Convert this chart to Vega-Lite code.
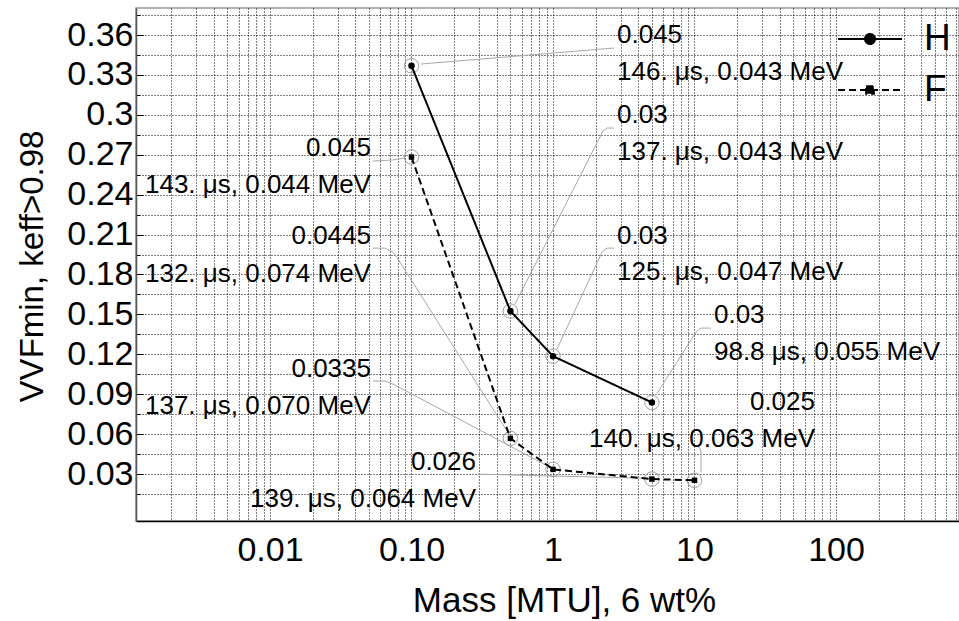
{
  "$schema": "https://vega.github.io/schema/vega-lite/v6.json",
  "width": 823,
  "height": 513,
  "autosize": {"type": "none"},
  "padding": {"left": 136, "top": 8, "right": 0, "bottom": 100},
  "background": "white",
  "config": {
    "view": {"stroke": "#999", "strokeWidth": 1.5},
    "font": "Liberation Sans",
    "axis": {"labelFont": "Liberation Sans", "titleFont": "Liberation Sans", "labelColor": "black", "titleColor": "black", "titleFontWeight": "normal"}
  },
  "datasets": {
    "series": [
      {"series": "H", "x": 0.1, "y": 0.3369},
      {"series": "H", "x": 0.5, "y": 0.1525},
      {"series": "H", "x": 1, "y": 0.1186},
      {"series": "H", "x": 5, "y": 0.0838},
      {"series": "F", "x": 0.1, "y": 0.2683},
      {"series": "F", "x": 0.5, "y": 0.0568},
      {"series": "F", "x": 1, "y": 0.0335},
      {"series": "F", "x": 5, "y": 0.0262},
      {"series": "F", "x": 10, "y": 0.0253}
    ],
    "leaders": [
      {"id": "A", "o": 1, "x": 0.1167, "y": 0.3382},
      {"id": "A", "o": 2, "x": 2.698, "y": 0.3502},
      {"id": "B", "o": 1, "x": 0.5387, "y": 0.1577},
      {"id": "B", "o": 2, "x": 2.256, "y": 0.2878},
      {"id": "B", "o": 3, "x": 2.407, "y": 0.2901},
      {"id": "B", "o": 4, "x": 2.698, "y": 0.2901},
      {"id": "C", "o": 1, "x": 1.067, "y": 0.1239},
      {"id": "C", "o": 2, "x": 2.22, "y": 0.1968},
      {"id": "C", "o": 3, "x": 2.407, "y": 0.1998},
      {"id": "C", "o": 4, "x": 2.698, "y": 0.1998},
      {"id": "D", "o": 1, "x": 5.345, "y": 0.0893},
      {"id": "D", "o": 2, "x": 10.25, "y": 0.1367},
      {"id": "D", "o": 3, "x": 11.12, "y": 0.1397},
      {"id": "D", "o": 4, "x": 13.08, "y": 0.1397},
      {"id": "E", "o": 1, "x": 0.05343, "y": 0.2653},
      {"id": "E", "o": 2, "x": 0.07281, "y": 0.266},
      {"id": "E", "o": 3, "x": 0.08851, "y": 0.2675},
      {"id": "F", "o": 1, "x": 0.05343, "y": 0.1998},
      {"id": "F", "o": 2, "x": 0.06498, "y": 0.1998},
      {"id": "F", "o": 3, "x": 0.07401, "y": 0.1968},
      {"id": "F", "o": 4, "x": 0.08028, "y": 0.1916},
      {"id": "F", "o": 5, "x": 0.473, "y": 0.0623},
      {"id": "G", "o": 1, "x": 0.05343, "y": 0.0999},
      {"id": "G", "o": 2, "x": 0.06498, "y": 0.0999},
      {"id": "G", "o": 3, "x": 0.07401, "y": 0.0976},
      {"id": "G", "o": 4, "x": 0.8925, "y": 0.0367},
      {"id": "H", "o": 1, "x": 0.2951, "y": 0.0299},
      {"id": "H", "o": 2, "x": 4.397, "y": 0.0269},
      {"id": "I", "o": 1, "x": 10.42, "y": 0.051},
      {"id": "I", "o": 2, "x": 10.94, "y": 0.0495},
      {"id": "I", "o": 3, "x": 11.12, "y": 0.0465},
      {"id": "I", "o": 4, "x": 11.12, "y": 0.0314}
    ],
    "labelsLeft": [
      {"x": 2.834, "y": 0.36, "t": "0.045"},
      {"x": 2.834, "y": 0.3322, "t": "146. μs, 0.043 MeV"},
      {"x": 2.834, "y": 0.3, "t": "0.03"},
      {"x": 2.834, "y": 0.272, "t": "137. μs, 0.043 MeV"},
      {"x": 2.834, "y": 0.2089, "t": "0.03"},
      {"x": 2.834, "y": 0.1818, "t": "125. μs, 0.047 MeV"},
      {"x": 13.73, "y": 0.1495, "t": "0.03"},
      {"x": 13.73, "y": 0.1217, "t": "98.8 μs, 0.055 MeV"}
    ],
    "labelsRight": [
      {"x": 0.05172, "y": 0.275, "t": "0.045"},
      {"x": 0.05172, "y": 0.2472, "t": "143. μs, 0.044 MeV"},
      {"x": 0.05172, "y": 0.2089, "t": "0.0445"},
      {"x": 0.05172, "y": 0.1803, "t": "132. μs, 0.074 MeV"},
      {"x": 0.05172, "y": 0.1089, "t": "0.0335"},
      {"x": 0.05172, "y": 0.0811, "t": "137. μs, 0.070 MeV"},
      {"x": 0.2857, "y": 0.0389, "t": "0.026"},
      {"x": 0.2857, "y": 0.0111, "t": "139. μs, 0.064 MeV"},
      {"x": 71.05, "y": 0.0841, "t": "0.025"},
      {"x": 71.05, "y": 0.0562, "t": "140. μs, 0.063 MeV"}
    ]
  },
  "encoding": {
    "x": {
      "field": "x",
      "type": "quantitative",
      "scale": {"type": "log", "domain": [0.00113, 740], "nice": false},
      "axis": {
        "values": [0.002, 0.003, 0.004, 0.005, 0.006, 0.007, 0.008, 0.009, 0.01, 0.02, 0.03, 0.04, 0.05, 0.06, 0.07, 0.08, 0.09, 0.1, 0.2, 0.3, 0.4, 0.5, 0.6, 0.7, 0.8, 0.9, 1, 2, 3, 4, 5, 6, 7, 8, 9, 10, 20, 30, 40, 50, 60, 70, 80, 90, 100, 200, 300, 400, 500, 600, 700],
        "labelExpr": "abs(log(datum.value)/LN10 - round(log(datum.value)/LN10)) < 0.000001 ? (datum.value < 1 ? format(datum.value, '.2f') : format(datum.value, 'd')) : ''",
        "labelFontSize": 34,
        "labelPadding": 12,
        "labelBaseline": "top",
        "labelOverlap": false,
        "labelFlush": false,
        "grid": true,
        "gridColor": "#000",
        "gridDash": [1, 2],
        "gridWidth": 1,
        "tickColor": "black",
        "tickWidth": 1,
        "tickSize": 0,
        "domainColor": "black",
        "domainWidth": 1.5,
        "title": "Mass [MTU], 6 wt%",
        "titleFontSize": 35,
        "titleX": 428,
        "titleY": 90,
        "titleBaseline": "alphabetic"
      }
    },
    "y": {
      "field": "y",
      "type": "quantitative",
      "scale": {"domain": [-0.0053, 0.3803], "nice": false, "zero": false},
      "axis": {
        "values": [0.015, 0.03, 0.045, 0.06, 0.075, 0.09, 0.105, 0.12, 0.135, 0.15, 0.165, 0.18, 0.195, 0.21, 0.225, 0.24, 0.255, 0.27, 0.285, 0.3, 0.315, 0.33, 0.345, 0.36, 0.375],
        "labelExpr": "round(datum.value/0.015) % 2 == 0 ? format(datum.value, '~g') : ''",
        "labelFontSize": 34,
        "labelPadding": 10,
        "labelOverlap": false,
        "labelFlush": false,
        "grid": true,
        "gridColor": "#000",
        "gridDash": [1, 2],
        "gridWidth": 1,
        "tickColor": "black",
        "tickWidth": 1,
        "tickSize": {"condition": {"test": "round(datum.value/0.015) % 2 == 0", "value": -7}, "value": -4},
        "domainColor": "#555",
        "domainWidth": 1.5,
        "title": "VVFmin, keff>0.98",
        "titleFontSize": 33,
        "titleAngle": -90,
        "titleX": -94,
        "titleY": 258,
        "titleBaseline": "alphabetic",
        "titleAlign": "center"
      }
    }
  },
  "layer": [
    {
      "data": {"name": "leaders"},
      "mark": {"type": "line", "color": "#a8a8a8", "strokeWidth": 1},
      "encoding": {"detail": {"field": "id"}, "order": {"field": "o", "type": "quantitative"}}
    },
    {
      "data": {"name": "series"},
      "mark": {"type": "point", "shape": "circle", "filled": false, "size": 210, "stroke": "#a0a0a0", "strokeWidth": 1, "opacity": 1}
    },
    {
      "data": {"name": "series"},
      "mark": {"type": "line", "color": "black", "strokeWidth": 2},
      "encoding": {
        "strokeDash": {
          "field": "series",
          "type": "nominal",
          "scale": {"domain": ["H", "F"], "range": [[1, 0], [7, 4]]},
          "legend": {
            "title": null,
            "orient": "none",
            "legendX": 701,
            "legendY": -2,
            "padding": 0,
            "symbolSize": 4096,
            "symbolStrokeWidth": 2,
            "symbolStrokeColor": "black",
            "symbolFillColor": "black",
            "symbolType": "M-1,0H1",
            "labelFontSize": 37,
            "labelFont": "Liberation Sans",
            "labelColor": "black",
            "labelOffset": 21,
            "rowPadding": -3,
            "encode": {
              "symbols": {
                "update": {
                  "shape": {"signal": "datum.value === 'H' ? 'M-1,0H1M0.156,0A0.156,0.156,0,1,1,-0.156,0A0.156,0.156,0,1,1,0.156,0Z' : 'M-1,0H1M-0.12,-0.12H0.12V0.12H-0.12Z'"},
                  "fill": {"value": "black"},
                  "stroke": {"value": "black"}
                }
              }
            }
          }
        }
      }
    },
    {
      "data": {"name": "series"},
      "transform": [{"filter": "datum.series === 'H'"}],
      "mark": {"type": "circle", "color": "black", "size": 42, "opacity": 1}
    },
    {
      "data": {"name": "series"},
      "transform": [{"filter": "datum.series === 'F'"}],
      "mark": {"type": "square", "color": "black", "size": 30, "opacity": 1}
    },
    {
      "data": {"name": "labelsLeft"},
      "mark": {"type": "text", "align": "left", "baseline": "middle", "fontSize": 26, "font": "Liberation Sans", "color": "black"},
      "encoding": {"text": {"field": "t"}}
    },
    {
      "data": {"name": "labelsRight"},
      "mark": {"type": "text", "align": "right", "baseline": "middle", "fontSize": 26, "font": "Liberation Sans", "color": "black"},
      "encoding": {"text": {"field": "t"}}
    }
  ]
}
